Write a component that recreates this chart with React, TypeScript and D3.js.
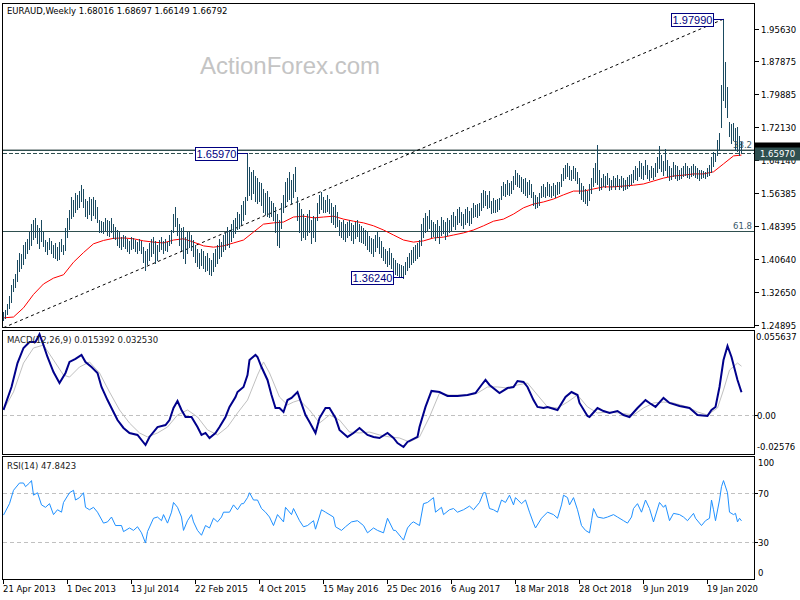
import React from "react";
import * as d3 from "d3";

// ---------- DATA ----------
const title = "EURAUD,Weekly  1.68016 1.68697 1.66149 1.66792";
const lastClose = 1.66792;

const barHigh = [
  1.280,1.285,1.300,1.318,1.345,1.360,1.372,1.405,1.420,1.418,
  1.440,1.448,1.455,1.470,1.490,1.500,1.505,1.488,1.480,1.500,
  1.470,1.452,1.448,1.457,1.450,1.440,1.445,1.435,1.447,1.455,
  1.440,1.480,1.505,1.524,1.555,1.548,1.564,1.560,1.570,1.584,
  1.575,1.550,1.545,1.556,1.550,1.556,1.548,1.530,1.500,1.498,
  1.495,1.505,1.500,1.497,1.505,1.490,1.482,1.476,1.470,1.460,
  1.464,1.462,1.455,1.450,1.460,1.458,1.452,1.448,1.455,1.450,
  1.435,1.425,1.430,1.445,1.455,1.459,1.450,1.440,1.452,1.459,
  1.450,1.455,1.448,1.465,1.476,1.515,1.531,1.505,1.490,1.480,
  1.483,1.460,1.470,1.471,1.465,1.452,1.440,1.430,1.420,1.430,
  1.425,1.415,1.420,1.410,1.405,1.420,1.430,1.440,1.455,1.448,
  1.465,1.470,1.483,1.475,1.490,1.500,1.505,1.520,1.515,1.535,
  1.545,1.555,1.6597,1.626,1.615,1.620,1.605,1.600,1.590,1.588,
  1.575,1.565,1.570,1.555,1.545,1.540,1.531,1.515,1.500,1.540,
  1.560,1.590,1.600,1.615,1.595,1.610,1.626,1.555,1.540,1.525,
  1.515,1.505,1.515,1.524,1.500,1.510,1.505,1.540,1.560,1.567,
  1.555,1.548,1.560,1.550,1.540,1.530,1.535,1.520,1.500,1.495,
  1.500,1.490,1.495,1.500,1.492,1.488,1.495,1.500,1.490,1.485,
  1.480,1.476,1.470,1.462,1.458,1.455,1.465,1.470,1.460,1.450,
  1.435,1.430,1.425,1.432,1.420,1.410,1.405,1.398,1.395,1.392,
  1.390,1.400,1.412,1.420,1.428,1.435,1.440,1.445,1.452,1.490,
  1.505,1.517,1.510,1.524,1.500,1.495,1.490,1.500,1.485,1.507,
  1.500,1.495,1.505,1.500,1.512,1.520,1.510,1.525,1.531,1.520,
  1.515,1.525,1.530,1.522,1.528,1.540,1.535,1.538,1.540,1.565,
  1.572,1.568,1.560,1.570,1.545,1.552,1.548,1.550,1.552,1.580,
  1.590,1.585,1.596,1.588,1.592,1.605,1.619,1.612,1.608,1.603,
  1.598,1.600,1.590,1.595,1.585,1.567,1.560,1.555,1.565,1.580,
  1.585,1.578,1.591,1.585,1.580,1.588,1.583,1.590,1.591,1.610,
  1.625,1.632,1.636,1.628,1.620,1.630,1.625,1.615,1.600,1.588,
  1.580,1.575,1.570,1.585,1.600,1.625,1.636,1.678,1.620,1.600,
  1.610,1.605,1.612,1.600,1.595,1.605,1.600,1.608,1.598,1.605,
  1.600,1.596,1.603,1.607,1.610,1.620,1.630,1.625,1.640,1.635,
  1.628,1.643,1.632,1.620,1.630,1.625,1.635,1.650,1.676,1.655,
  1.640,1.670,1.643,1.630,1.625,1.638,1.632,1.628,1.620,1.625,
  1.630,1.636,1.628,1.624,1.630,1.634,1.628,1.625,1.620,1.619,
  1.618,1.615,1.625,1.632,1.650,1.662,1.660,1.690,1.708,1.822,
  1.9799,1.877,1.818,1.734,1.730,1.732,1.720,1.722,1.700,1.68697,
];

const barLow = [
  1.261,1.266,1.275,1.290,1.305,1.330,1.340,1.355,1.378,1.385,
  1.395,1.408,1.420,1.430,1.440,1.455,1.460,1.445,1.432,1.450,
  1.438,1.425,1.418,1.430,1.420,1.412,1.410,1.405,1.406,1.425,
  1.418,1.428,1.460,1.478,1.505,1.510,1.520,1.525,1.532,1.545,
  1.530,1.510,1.505,1.515,1.500,1.512,1.505,1.495,1.470,1.472,
  1.468,1.475,1.465,1.462,1.470,1.458,1.455,1.440,1.435,1.430,
  1.437,1.432,1.425,1.421,1.430,1.433,1.425,1.422,1.428,1.420,
  1.400,1.380,1.395,1.405,1.415,1.420,1.397,1.405,1.425,1.430,
  1.421,1.428,1.425,1.440,1.445,1.470,1.485,1.465,1.440,1.428,
  1.410,1.397,1.420,1.435,1.428,1.415,1.400,1.390,1.385,1.392,
  1.385,1.378,1.380,1.372,1.368,1.378,1.390,1.397,1.410,1.415,
  1.425,1.430,1.440,1.435,1.450,1.460,1.469,1.478,1.480,1.490,
  1.500,1.515,1.548,1.560,1.550,1.565,1.545,1.540,1.545,1.535,
  1.520,1.515,1.510,1.507,1.510,1.500,1.470,1.440,1.435,1.480,
  1.520,1.531,1.545,1.550,1.540,1.555,1.570,1.500,1.470,1.452,
  1.460,1.455,1.465,1.470,1.445,1.460,1.450,1.500,1.517,1.525,
  1.520,1.518,1.522,1.517,1.495,1.490,1.483,1.485,1.465,1.460,
  1.455,1.450,1.460,1.465,1.452,1.445,1.458,1.462,1.450,1.448,
  1.445,1.440,1.430,1.425,1.420,1.415,1.425,1.435,1.420,1.411,
  1.405,1.398,1.390,1.395,1.385,1.378,1.372,1.368,1.366,1.364,
  1.3624,1.370,1.380,1.387,1.395,1.400,1.405,1.410,1.415,1.440,
  1.460,1.470,1.475,1.480,1.459,1.462,1.452,1.460,1.445,1.465,
  1.468,1.455,1.465,1.470,1.476,1.485,1.478,1.490,1.495,1.488,
  1.480,1.490,1.495,1.488,1.492,1.507,1.510,1.508,1.512,1.524,
  1.530,1.535,1.528,1.532,1.517,1.520,1.518,1.522,1.525,1.550,
  1.560,1.558,1.562,1.560,1.565,1.575,1.585,1.580,1.578,1.570,
  1.565,1.560,1.555,1.562,1.555,1.535,1.528,1.530,1.535,1.555,
  1.558,1.555,1.560,1.557,1.555,1.560,1.556,1.562,1.565,1.580,
  1.595,1.600,1.605,1.598,1.595,1.600,1.596,1.588,1.565,1.550,
  1.545,1.540,1.536,1.548,1.565,1.580,1.590,1.585,1.572,1.575,
  1.580,1.578,1.585,1.572,1.575,1.580,1.574,1.582,1.575,1.578,
  1.572,1.573,1.577,1.580,1.585,1.590,1.598,1.595,1.605,1.600,
  1.598,1.610,1.600,1.595,1.602,1.598,1.605,1.615,1.625,1.618,
  1.608,1.620,1.605,1.595,1.598,1.605,1.600,1.595,1.598,1.600,
  1.605,1.608,1.602,1.600,1.604,1.608,1.603,1.600,1.596,1.600,
  1.602,1.600,1.605,1.607,1.615,1.630,1.640,1.655,1.667,1.722,
  1.787,1.770,1.746,1.700,1.684,1.690,1.667,1.665,1.655,1.66149,
];

// moving average (week index, value)
const maPoints: [number, number][] = [
  [0,1.266],[5,1.268],[10,1.290],[15,1.322],[20,1.347],[25,1.361],[30,1.369],[35,1.399],
  [40,1.422],[45,1.443],[50,1.451],[55,1.456],[60,1.457],[65,1.455],[70,1.450],[75,1.447],
  [80,1.445],[85,1.452],[90,1.455],[95,1.447],[100,1.438],[105,1.435],[110,1.438],[115,1.445],
  [120,1.452],[125,1.471],[130,1.490],[135,1.493],[140,1.495],[145,1.507],[150,1.509],[155,1.505],
  [160,1.507],[165,1.509],[170,1.502],[175,1.497],[180,1.493],[185,1.486],[190,1.476],[195,1.464],
  [200,1.452],[205,1.447],[210,1.450],[215,1.457],[220,1.459],[225,1.464],[230,1.469],[235,1.476],
  [240,1.486],[245,1.497],[250,1.502],[255,1.514],[260,1.529],[265,1.538],[270,1.543],[275,1.550],
  [280,1.560],[285,1.569],[290,1.569],[295,1.574],[300,1.579],[305,1.579],[310,1.581],[315,1.583],
  [320,1.586],[325,1.593],[330,1.600],[335,1.605],[340,1.607],[345,1.610],[350,1.610],[355,1.615],
  [360,1.634],[365,1.653],[369,1.655],
];

const macdPoints: [number, number][] = [
  [0,0.0038],[4,0.0189],[7,0.0346],[10,0.0445],[13,0.0484],[16,0.0484],[18,0.0535],[20,0.0464],
  [22,0.0386],[25,0.0287],[28,0.0215],[31,0.0281],[33,0.0353],[36,0.0373],[39,0.0399],[41,0.0353],
  [44,0.0320],[47,0.0281],[49,0.0189],[52,0.0103],[55,0.0025],[57,-0.0028],[60,-0.0080],[63,-0.0113],
  [67,-0.0126],[71,-0.0192],[73,-0.0139],[77,-0.0074],[81,-0.0061],[83,-0.0028],[85,0.0051],[87,0.0097],
  [89,0.0038],[91,-0.0008],[94,-0.0008],[97,-0.0074],[99,-0.0126],[101,-0.0113],[103,-0.0146],[106,-0.0113],
  [108,-0.0074],[111,-0.0008],[113,0.0058],[116,0.0123],[117,0.0156],[120,0.0189],[122,0.0267],[123,0.0366],
  [126,0.0399],[127,0.0386],[129,0.0320],[132,0.0235],[134,0.0136],[136,0.0051],[138,0.0051],[140,0.0025],
  [142,0.0103],[144,0.0117],[147,0.0156],[148,0.0117],[151,0.0005],[153,-0.0041],[156,-0.0113],[158,-0.0015],
  [161,0.0051],[163,0.0051],[166,-0.0015],[168,-0.0093],[172,-0.0139],[175,-0.0113],[178,-0.0080],[182,-0.0126],
  [185,-0.0139],[188,-0.0146],[192,-0.0113],[195,-0.0146],[197,-0.0179],[200,-0.0205],[202,-0.0172],[207,-0.0139],
  [208,-0.0074],[211,0.0058],[214,0.0163],[218,0.0156],[222,0.0130],[227,0.0130],[232,0.0136],[236,0.0149],
  [239,0.0202],[241,0.0235],[243,0.0202],[248,0.0149],[252,0.0182],[255,0.0189],[257,0.0228],[260,0.0222],
  [262,0.0189],[265,0.0103],[267,0.0058],[270,0.0051],[272,0.0058],[277,0.0038],[281,0.0123],[284,0.0156],
  [287,0.0136],[288,0.0084],[292,-0.0001],[293,-0.0008],[297,0.0051],[300,0.0031],[303,0.0018],[307,0.0031],
  [310,0.0005],[313,-0.0008],[317,0.0051],[321,0.0103],[323,0.0084],[326,0.0058],[330,0.0117],[333,0.0084],
  [338,0.0064],[343,0.0051],[347,0.0005],[352,-0.0001],[354,0.0038],[356,0.0058],[358,0.0189],[360,0.0366],
  [362,0.0458],[364,0.0386],[367,0.0235],[369,0.015392],
];

const signalPoints: [number, number][] = [
  [0,0.0038],[5,0.0156],[10,0.0346],[15,0.0445],[20,0.0464],[25,0.0366],[30,0.0267],[33,0.0254],
  [38,0.0320],[43,0.0353],[48,0.0281],[53,0.0156],[58,0.0038],[63,-0.0048],[68,-0.0113],[72,-0.0139],
  [77,-0.0113],[82,-0.0074],[87,0.0005],[92,0.0038],[97,-0.0008],[102,-0.0093],[107,-0.0126],[112,-0.0074],
  [117,0.0018],[122,0.0103],[127,0.0267],[130,0.0353],[133,0.0281],[138,0.0123],[142,0.0071],[145,0.0090],
  [148,0.0103],[153,0.0038],[158,-0.0048],[163,0.0005],[168,-0.0028],[173,-0.0107],[178,-0.0113],[183,-0.0107],
  [188,-0.0126],[193,-0.0139],[198,-0.0146],[203,-0.0172],[208,-0.0139],[213,-0.0008],[218,0.0149],[223,0.0136],
  [232,0.0136],[237,0.0149],[242,0.0189],[247,0.0189],[252,0.0182],[257,0.0202],[262,0.0215],[267,0.0136],
  [272,0.0058],[277,0.0051],[282,0.0090],[287,0.0136],[292,0.0058],[297,0.0018],[302,0.0025],[308,0.0018],
  [315,0.0005],[320,0.0051],[325,0.0084],[330,0.0090],[335,0.0084],[342,0.0058],[347,0.0025],[352,0.0005],
  [357,0.0051],[360,0.0169],[363,0.0300],[367,0.0346],[369,0.032530],
];

const rsiPoints: [number, number][] = [
  [0,52.6],[3,62],[5,73],[8,79],[10,79],[11,76],[13,79],[14,81],[15,69],[17,71],[19,61],[21,59],
  [23,62],[25,53],[27,57],[29,55],[30,63],[33,71],[35,73],[36,65],[38,67],[40,71],[41,59],[43,57],
  [45,59],[47,55],[50,46],[52,47],[54,51],[56,44],[59,44],[60,39],[63,42],[65,40],[67,43],[69,38],
  [71,29.6],[72,39],[75,50],[77,51],[79,48],[80,53],[82,46],[84,55],[85,63],[87,59],[89,51],[90,40],
  [92,48],[94,53],[95,47],[97,40],[99,36],[101,44],[103,42],[105,50],[107,47],[109,51],[110,55],[113,55],
  [115,61],[117,57],[119,62],[120,62],[122,67],[123,71],[125,65],[127,65],[129,58],[131,55],[133,51],[135,44],
  [137,53],[140,47],[141,59],[144,53],[145,58],[148,48],[150,43],[152,44],[155,48],[156,41],[159,57],[161,55],
  [165,51],[166,43],[169,40],[171,43],[174,47],[177,48],[180,44],[182,38],[185,42],[187,40],[190,38],[192,50],
  [195,40],[196,40],[199,34],[200,32],[202,42],[204,46],[205,47],[208,44],[210,62],[212,63],[215,67],[216,55],
  [219,59],[220,53],[223,57],[225,58],[227,55],[230,57],[233,60],[235,57],[238,63],[240,71],[241,71],[243,58],
  [245,57],[247,55],[249,65],[251,63],[253,69],[255,61],[256,67],[259,62],[261,65],[263,55],[265,46],[266,42],
  [269,50],[272,55],[275,53],[277,50],[279,61],[280,69],[282,67],[283,61],[285,67],[287,57],[289,44],[291,40],
  [293,38],[294,48],[295,58],[297,51],[300,50],[302,51],[305,53],[307,51],[310,48],[312,46],[314,51],[315,58],
  [317,62],[319,55],[321,65],[323,58],[325,47],[328,63],[330,59],[331,61],[333,48],[335,54],[338,53],[340,51],
  [342,48],[345,54],[346,50],[349,44],[351,48],[353,50],[354,65],[355,57],[356,48],[358,65],[359,76],[360,81],
  [362,71],[363,55],[365,53],[366,54],[367,47],[368,50],[369,47.8423],
];

const priceTicks = [1.9563, 1.87875, 1.79885, 1.7213, 1.6414, 1.56385, 1.48395, 1.4064, 1.3265, 1.24895];
const dateLabels = ["21 Apr 2013","1 Dec 2013","13 Jul 2014","22 Feb 2015","4 Oct 2015","15 May 2016",
  "25 Dec 2016","6 Aug 2017","18 Mar 2018","28 Oct 2018","9 Jun 2019","19 Jan 2020"];
const dateWeeks = [0,32,64,96,128,160,192,224,256,288,320,352];

const fibHigh = 1.9799;
const fibLow = 1.1602;
const fibLevels = [38.2, 61.8];
const keyLevel = 1.6597;
const swingPoints = [
  { week: 360, price: 1.9799, text: "1.97990" },
  { week: 122, price: 1.6597, text: "1.65970" },
  { week: 200, price: 1.3624, text: "1.36240" },
];
const trendStart: [number, number] = [0, 1.2425];
const trendEnd: [number, number] = [360, 1.9799];

const macdTicks = [
  { v: 0.055637, label: "0.055637" },
  { v: 0, label: "0.00" },
  { v: -0.02576, label: "-0.02576" },
];
const rsiTicks = [100, 70, 30, 0];

// ---------- CHART ----------
const FONT = "'DejaVu Sans', Verdana, sans-serif";
const FS = 8.5;

export default function App() {
  const nBars = barHigh.length;
  const x = d3.scaleLinear().domain([0, nBars - 1]).range([3.5, 3.5 + 2 * (nBars - 1)]);
  const yP = d3.scaleLinear().domain([1.24895, 1.9563]).range([325, 29]);
  const yM = d3.scaleLinear().domain([-0.02576, 0.055637]).range([455, 331]);
  const yR = d3.scaleLinear().domain([0, 100]).range([579, 457.5]);
  const snap = (v: number) => Math.round(v - 0.5) + 0.5;

  const maLine = d3.line<[number, number]>().x(d => x(d[0])).y(d => yP(d[1]));
  const macdLine = d3.line<[number, number]>().x(d => x(d[0])).y(d => yM(d[1]));
  const rsiLine = d3.line<[number, number]>().x(d => x(d[0])).y(d => yR(d[1]));

  const L = 2.5, R = 754.5;
  const main = { top: 3.5, bottom: 327.5 };
  const macd = { top: 330.5, bottom: 454.5 };
  const rsi = { top: 456.5, bottom: 579.5 };

  const fibPrice = (p: number) => fibHigh - (p / 100) * (fibHigh - fibLow);

  return (
    <svg width={800} height={600} style={{ position: "absolute", left: 0, top: 0 }} fontFamily={FONT}>
      <defs>
        <clipPath id="clipMain"><rect x={L + 0.5} y={main.top + 0.5} width={R - L - 1} height={main.bottom - main.top - 1} /></clipPath>
        <clipPath id="clipMacd"><rect x={L + 0.5} y={macd.top + 0.5} width={R - L - 1} height={macd.bottom - macd.top - 1} /></clipPath>
        <clipPath id="clipRsi"><rect x={L + 0.5} y={rsi.top + 0.5} width={R - L - 1} height={rsi.bottom - rsi.top - 1} /></clipPath>
      </defs>
      <rect x={0} y={0} width={800} height={600} fill="#ffffff" />

      {/* MAIN PANEL */}
      <g clipPath="url(#clipMain)">
        <text x={200} y={74} fontFamily="'Liberation Sans', Arial, sans-serif" fontSize={24} fill="#c4c4c4">ActionForex.com</text>
        {fibLevels.map(l => (
          <g key={l}>
            <line x1={L} x2={R} y1={snap(yP(fibPrice(l)))} y2={snap(yP(fibPrice(l)))} stroke="#2f4f4f" strokeWidth={1} shapeRendering="crispEdges" />
            <text x={752} y={snap(yP(fibPrice(l))) - 3} textAnchor="end" fontSize={FS} fill="#3b5a6a">{l.toFixed(1)}</text>
          </g>
        ))}
        <line x1={L} x2={R} y1={snap(yP(lastClose))} y2={snap(yP(lastClose))} stroke="#a8b0b0" strokeWidth={1} shapeRendering="crispEdges" />
        <line x1={L} x2={R} y1={snap(yP(keyLevel))} y2={snap(yP(keyLevel))} stroke="#2f4f4f" strokeWidth={1} strokeDasharray="4,2" shapeRendering="crispEdges" />
        <line x1={x(trendStart[0])} y1={yP(trendStart[1])} x2={x(trendEnd[0])} y2={yP(trendEnd[1])} stroke="#000" strokeWidth={1} strokeDasharray="3,3" />
        <path d={maLine(maPoints) || ""} fill="none" stroke="#ff0000" strokeWidth={1} />
        {barHigh.map((h, i) => (
          <line key={i} x1={x(i)} x2={x(i)} y1={Math.round(yP(h))} y2={Math.round(yP(barLow[i])) + 1} stroke="#1a4a60" strokeWidth={1} shapeRendering="crispEdges" />
        ))}
        {swingPoints.map(s => {
          const cy = snap(yP(s.price));
          const bx = Math.round(x(s.week) - 10.5 - 42) + 0.5;
          return (
            <g key={s.text}>
              <line x1={bx + 42} x2={x(s.week)} y1={cy} y2={cy} stroke="#000080" strokeWidth={1} shapeRendering="crispEdges" />
              <rect x={bx} y={cy - 6.5} width={42} height={13} fill="#fff" stroke="#000080" strokeWidth={1} shapeRendering="crispEdges" />
              <text x={bx + 21} y={cy + 4} textAnchor="middle" fontFamily="'Liberation Sans', Arial, sans-serif" fontSize={11} fill="#000080">{s.text}</text>
            </g>
          );
        })}
        <text x={7} y={14} fontSize={FS} fill="#000">{title}</text>
      </g>
      <rect x={L} y={main.top} width={R - L} height={main.bottom - main.top} fill="none" stroke="#000" strokeWidth={1} shapeRendering="crispEdges" />

      {/* price axis */}
      {priceTicks.map(t => (
        <g key={t}>
          <line x1={R} x2={R + 4} y1={snap(yP(t))} y2={snap(yP(t))} stroke="#000" shapeRendering="crispEdges" />
          <text x={761} y={yP(t) + 3.5} fontSize={FS} fill="#000">{t.toFixed(5)}</text>
        </g>
      ))}
      <g>
        <rect x={755} y={snap(yP(lastClose)) - 7} width={45} height={13} fill="#000" />
        <rect x={755} y={snap(yP(keyLevel)) - 6} width={45} height={13} fill="#2f4f4f" />
        <text x={760} y={snap(yP(keyLevel)) + 3} fontSize={FS} fill="#fff">{keyLevel.toFixed(5)}</text>
      </g>

      {/* MACD PANEL */}
      <g clipPath="url(#clipMacd)">
        <line x1={L} x2={R} y1={snap(yM(0))} y2={snap(yM(0))} stroke="#c0c0c0" strokeDasharray="4,3" shapeRendering="crispEdges" />
        <path d={macdLine(signalPoints) || ""} fill="none" stroke="#c0c0c0" strokeWidth={1} />
        <path d={macdLine(macdPoints) || ""} fill="none" stroke="#00008b" strokeWidth={2} />
        <text x={7} y={343} fontSize={FS} fill="#202020">MACD(12,26,9) 0.015392 0.032530</text>
      </g>
      <rect x={L} y={macd.top} width={R - L} height={macd.bottom - macd.top} fill="none" stroke="#000" strokeWidth={1} shapeRendering="crispEdges" />
      {macdTicks.map((t, k) => (
        <g key={t.label}>
          {t.v === 0 && <line x1={R} x2={R + 3} y1={snap(yM(0))} y2={snap(yM(0))} stroke="#000" shapeRendering="crispEdges" />}
          <text x={k === 0 ? 756 : 757} y={k === 0 ? 340 : k === 2 ? 450 : yM(t.v) + 3} fontSize={FS} fill="#000">{t.label}</text>
        </g>
      ))}

      {/* RSI PANEL */}
      <g clipPath="url(#clipRsi)">
        <line x1={L} x2={R} y1={snap(yR(70))} y2={snap(yR(70))} stroke="#c0c0c0" strokeDasharray="4,3" shapeRendering="crispEdges" />
        <line x1={L} x2={R} y1={snap(yR(30))} y2={snap(yR(30))} stroke="#c0c0c0" strokeDasharray="4,3" shapeRendering="crispEdges" />
        <path d={rsiLine(rsiPoints) || ""} fill="none" stroke="#1e90ff" strokeWidth={1} />
        <text x={7} y={469} fontSize={FS} fill="#202020">RSI(14) 47.8423</text>
      </g>
      <rect x={L} y={rsi.top} width={R - L} height={rsi.bottom - rsi.top} fill="none" stroke="#000" strokeWidth={1} shapeRendering="crispEdges" />
      {rsiTicks.map(t => (
        <g key={t}>
          {(t === 70 || t === 30) && <line x1={R} x2={R + 3} y1={snap(yR(t))} y2={snap(yR(t))} stroke="#000" shapeRendering="crispEdges" />}
          <text x={758} y={t === 100 ? 466 : t === 0 ? 576 : yR(t) + 3} fontSize={FS} fill="#000">{t}</text>
        </g>
      ))}

      {/* DATE AXIS */}
      {dateWeeks.map((w, k) => (
        <g key={w}>
          <line x1={snap(x(w))} x2={snap(x(w))} y1={rsi.bottom} y2={rsi.bottom + 4} stroke="#000" shapeRendering="crispEdges" />
          <text x={x(w) - 0.5} y={592} fontSize={FS} fill="#000">{dateLabels[k]}</text>
        </g>
      ))}
    </svg>
  );
}
